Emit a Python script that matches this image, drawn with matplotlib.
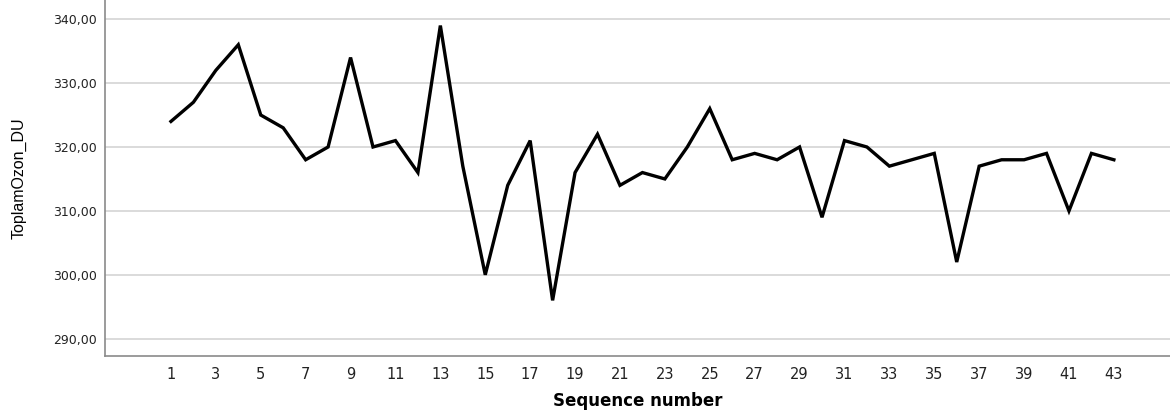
import matplotlib

matplotlib.use("Agg")
import matplotlib.pyplot as plt
from matplotlib.ticker import FuncFormatter

# Sequence numbers and total ozone (DU)
sequence = list(range(1, 44))
ozone_du = [
    324, 327, 332, 336, 325, 323, 318, 320, 334, 320,
    321, 316, 339, 317, 300, 314, 321, 296, 316, 322,
    314, 316, 315, 320, 326, 318, 319, 318, 320, 309,
    321, 320, 317, 318, 319, 302, 317, 318, 318, 319,
    310, 319, 318,
]
x_ticks = list(range(1, 44, 2))
y_ticks = [290, 300, 310, 320, 330, 340]

plt.rcParams["font.family"] = ["DejaVu Sans"]

fig = plt.figure(figsize=(11.7, 4.12), dpi=100)
ax = fig.add_axes([0.0897, 0.136, 0.9103, 0.864])

ax.plot(sequence, ozone_du, color="black", linewidth=2.4, solid_joinstyle="miter")

ax.set_xlim(-1.94, 45.5)
ax.set_ylim(287.3, 343.0)
ax.set_xticks(x_ticks)
ax.set_yticks(y_ticks)
ax.yaxis.set_major_formatter(FuncFormatter(lambda v, _: f"{v:.2f}".replace(".", ",")))

ax.grid(axis="y", color="#d4d4d4", linewidth=1.2)
ax.set_axisbelow(True)
for side in ("top", "right"):
    ax.spines[side].set_visible(False)
for side in ("left", "bottom"):
    ax.spines[side].set_color("#8a8a8a")
    ax.spines[side].set_linewidth(1.2)

ax.tick_params(axis="both", length=0, colors="#222222")
ax.tick_params(axis="x", labelsize=10.5, pad=8)
ax.tick_params(axis="y", labelsize=9, pad=6)

ax.set_xlabel("Sequence number", fontsize=12, fontweight="bold", labelpad=7)
ax.set_ylabel("ToplamOzon_DU", fontsize=11.5, family=["Liberation Sans"], labelpad=19)

fig.savefig("out.png", dpi=100)
plt.close(fig)
